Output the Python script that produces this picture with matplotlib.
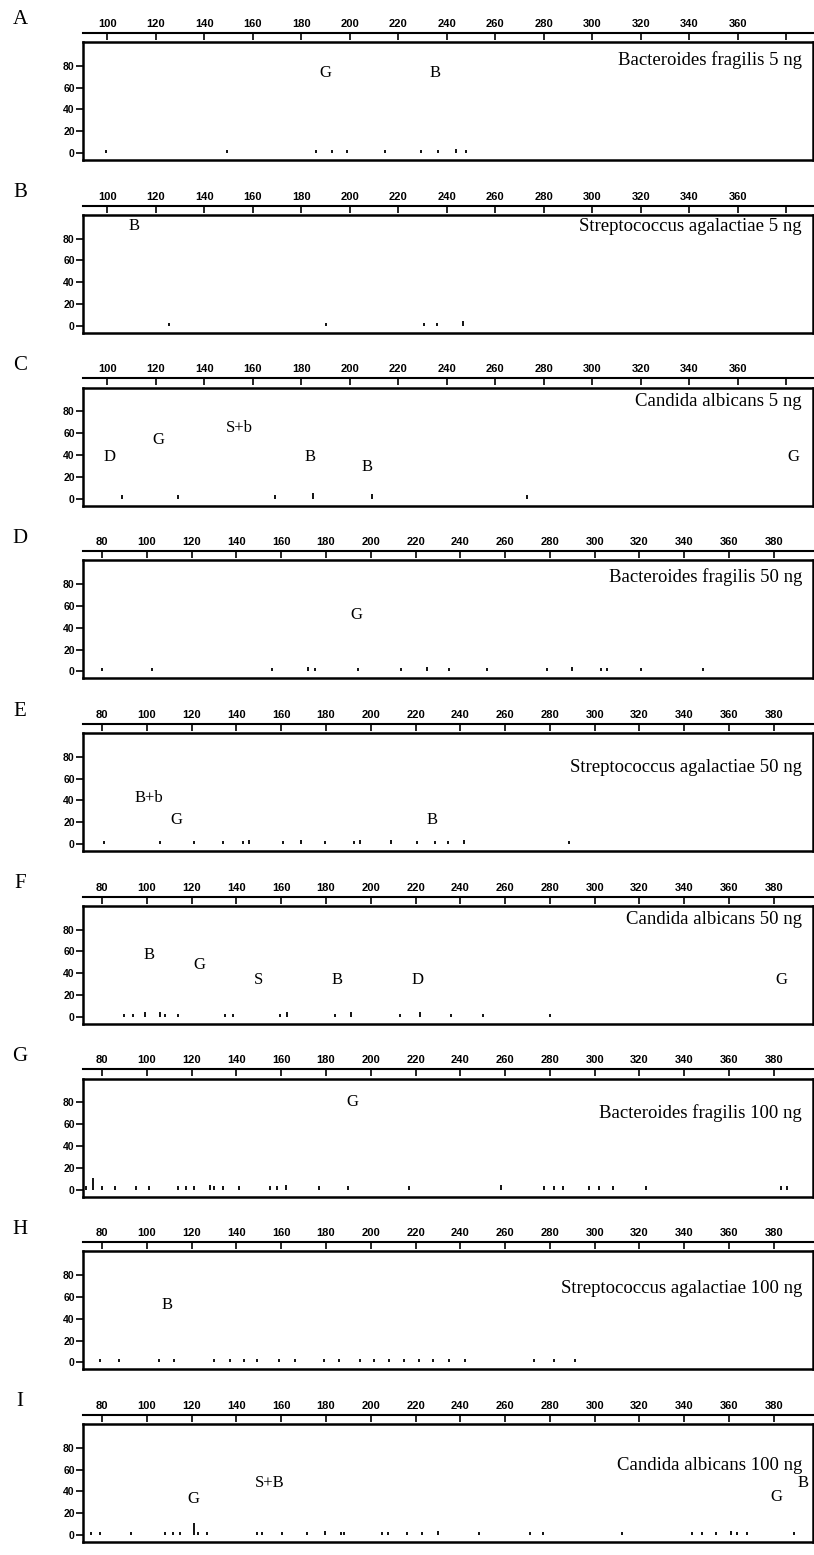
import matplotlib
matplotlib.use("Agg")
import matplotlib.pyplot as plt

W, H = 814, 1555
PANEL_STEP = 172.75

letters = ["A", "B", "C", "D", "E", "F", "G", "H", "I"]
titles = [
    "Bacteroides fragilis 5 ng",
    "Streptococcus agalactiae 5 ng",
    "Candida albicans 5 ng",
    "Bacteroides fragilis 50 ng",
    "Streptococcus agalactiae 50 ng",
    "Candida albicans 50 ng",
    "Bacteroides fragilis 100 ng",
    "Streptococcus agalactiae 100 ng",
    "Candida albicans 100 ng",
]
title_level = [85.5, 91, 89.5, 87, 70, 89, 70, 68, 64]

ticks_5ng = [100, 120, 140, 160, 180, 200, 220, 240, 260, 280, 300, 320, 340, 360, 380]
ticks_hi = [80, 100, 120, 140, 160, 180, 200, 220, 240, 260, 280, 300, 320, 340, 360, 380]
y_ticks = [0, 20, 40, 60, 80]

# baseline peaks (m/z, relative intensity)
mz_A = [99.5, 149.5, 186, 192.5, 199, 214.5, 229.5, 236.5, 244, 248]
int_A = [3, 3, 3, 3, 3, 3, 3, 3, 4, 3]
mz_B = [125.5, 190, 230.5, 236, 246.5]
int_B = [3, 3, 3, 3, 4]
mz_C = [106, 129, 169, 185, 209, 273]
int_C = [3, 3, 3, 5, 4, 3]
mz_D = [80, 102.5, 156, 172, 175, 194.5, 213.5, 225, 235, 252, 278.5, 290, 303, 305.5, 320.5, 348.5]
int_D = [3, 3, 3, 4, 3, 3, 3, 4, 3, 3, 3, 4, 3, 3, 3, 3]
mz_E = [81, 106, 121, 134, 143, 145.5, 161, 169, 179.5, 192.5, 195, 209, 220.5, 228.5, 234.5, 241.5, 288.5]
int_E = [3, 3, 3, 3, 3, 4, 3, 4, 3, 3, 4, 4, 3, 3, 3, 4, 3]
mz_F = [90, 94, 99, 106, 108, 114, 135, 138.5, 159.5, 162.5, 184, 191, 213, 222, 236, 250, 280]
int_F = [3, 3, 4, 4, 3, 3, 3, 3, 3, 4, 3, 4, 3, 4, 3, 3, 3]
mz_G = [73, 76, 80, 86, 95, 101, 114, 117.5, 121, 128, 130, 134, 141, 155, 158, 162, 177, 190,
        217, 258, 277.5, 282, 286, 297.5, 302, 308, 323, 383, 386]
int_G = [3, 11, 3, 3, 3, 3, 3, 3, 3, 4, 3, 3, 3, 3, 3, 4, 3, 3,
         3, 4, 3, 3, 3, 3, 3, 3, 3, 3, 3]
mz_H = [79, 87.5, 105.5, 112, 130, 137, 143.5, 149, 159, 166, 179, 186, 195, 201.5, 208, 215,
        221.5, 228, 235, 242, 273, 282, 291]
int_H = [3, 3, 3, 3, 3, 3, 3, 3, 3, 3, 3, 3, 3, 3, 3, 3,
         3, 3, 3, 3, 3, 3, 3]
mz_I = [75, 79, 93, 108, 111.5, 115, 121, 123, 127, 149, 151.5, 160.5, 171.5, 179.5, 186.5, 188,
        205, 207.5, 216, 223, 230, 248.5, 271, 277, 312, 343.5, 348, 354, 361, 363.5, 368, 389]
int_I = [3, 3, 3, 3, 3, 3, 11, 3, 3, 3, 3, 3, 3, 4, 3, 3,
         3, 3, 3, 3, 4, 3, 3, 3, 3, 3, 3, 3, 4, 3, 3, 3]

# peak assignments: label, m/z, height of the label
lab_A = ["G", "B"]
lab_mz_A = [190, 235]
lab_y_A = [73.5, 73.5]
lab_B = ["B"]
lab_mz_B = [111]
lab_y_B = [92]
lab_C = ["D", "G", "S+b", "B", "B", "G"]
lab_mz_C = [101, 121, 154.5, 183.5, 207, 383]
lab_y_C = [38, 54, 64.5, 38, 29, 38]
lab_D = ["G"]
lab_mz_D = [193.5]
lab_y_D = [51.5]
lab_E = ["B+b", "G", "B"]
lab_mz_E = [101, 113, 227.5]
lab_y_E = [42, 22, 22]
lab_F = ["B", "G", "S", "B", "D", "G"]
lab_mz_F = [101, 123.5, 150, 185, 221, 383.5]
lab_y_F = [57, 47.5, 34, 34, 34, 34]
lab_G = ["G"]
lab_mz_G = [192]
lab_y_G = [80.5]
lab_H = ["B"]
lab_mz_H = [109]
lab_y_H = [52.5]
lab_I = ["G", "S+B", "G", "B"]
lab_mz_I = [121, 155, 381, 393]
lab_y_I = [33.5, 47.5, 35, 47.5]

peaks = [(mz_A, int_A), (mz_B, int_B), (mz_C, int_C), (mz_D, int_D), (mz_E, int_E),
         (mz_F, int_F), (mz_G, int_G), (mz_H, int_H), (mz_I, int_I)]
labels = [(lab_A, lab_mz_A, lab_y_A), (lab_B, lab_mz_B, lab_y_B), (lab_C, lab_mz_C, lab_y_C),
          (lab_D, lab_mz_D, lab_y_D), (lab_E, lab_mz_E, lab_y_E), (lab_F, lab_mz_F, lab_y_F),
          (lab_G, lab_mz_G, lab_y_G), (lab_H, lab_mz_H, lab_y_H), (lab_I, lab_mz_I, lab_y_I)]

SERIF = ["Liberation Serif", "DejaVu Serif"]
SANS = ["Liberation Sans", "DejaVu Sans"]


def draw_panel(fig, k):
    top = 42 + k * PANEL_STEP
    bottom = 160 + k * PANEL_STEP
    ax = fig.add_axes([83 / W, 1 - bottom / H, (813 - 83) / W, (bottom - top) / H])

    if k < 3:
        xt = ticks_5ng
        ax.set_xlim(90, 391)
        xl = [str(t) for t in xt[:-1]] + [""]
    else:
        xt = ticks_hi
        ax.set_xlim(71.5, 397.5)
        xl = [str(t) for t in xt]
    ax.set_ylim(-6.4, 102)

    for s in ax.spines.values():
        s.set_linewidth(1.8)
    ax.set_xticks([])
    ax.set_yticks(y_ticks)
    ax.set_yticklabels([str(v) for v in y_ticks], fontfamily=SANS, fontsize=7.5, fontweight="bold")
    ax.tick_params(axis="y", direction="out", length=5, width=1.2, pad=1)

    sec = ax.secondary_xaxis(1 + 9 / (bottom - top))
    sec.set_xticks(xt)
    sec.set_xticklabels(xl, fontfamily=SANS, fontsize=8, fontweight="bold")
    sec.tick_params(direction="in", length=5, width=1.2, pad=3)
    sec.spines["top"].set_linewidth(1.5)

    mz, inten = peaks[k]
    ax.vlines(mz, 0, inten, color="black", lw=1.3)

    names, lmz, ly = labels[k]
    for name, x, y in zip(names, lmz, ly):
        ax.text(x, y, name, ha="center", va="center", fontfamily=SERIF, fontsize=12)

    ax.text(0.985, title_level[k], titles[k], transform=ax.get_yaxis_transform(),
            ha="right", va="center", fontfamily=SERIF, fontsize=13.5)

    fig.text(20 / W, 1 - (20 + k * PANEL_STEP) / H, letters[k], ha="center", va="center",
             fontfamily=SERIF, fontsize=15)
    return ax


fig = plt.figure(figsize=(W / 100, H / 100), dpi=100)
for k in range(len(letters)):
    draw_panel(fig, k)
fig.savefig("out.png", dpi=100)
plt.close(fig)
